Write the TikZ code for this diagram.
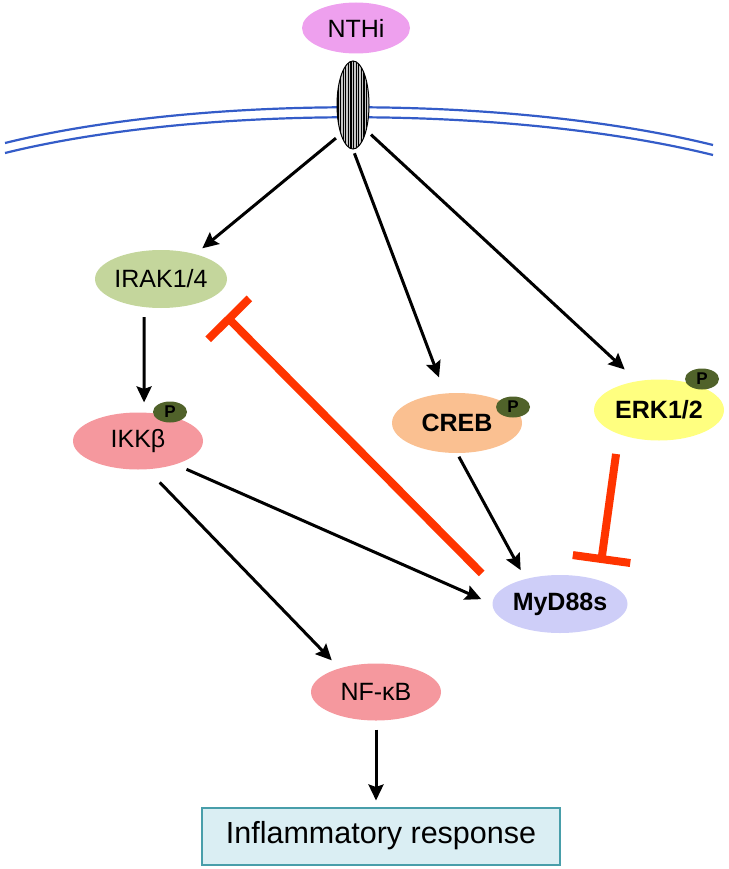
\documentclass[tikz,border=0pt]{standalone}
\usepackage{fontspec}
\setmainfont{Liberation Sans}
\usetikzlibrary{shapes.geometric,arrows.meta,patterns.meta}
\definecolor{nthicol}{RGB}{238,160,238}
\definecolor{irakcol}{RGB}{196,214,156}
\definecolor{ikkcol}{RGB}{245,152,158}
\definecolor{crebcol}{RGB}{250,192,145}
\definecolor{erkcol}{RGB}{255,255,128}
\definecolor{mydcol}{RGB}{206,206,248}
\definecolor{pcol}{RGB}{80,98,42}
\definecolor{memcol}{RGB}{52,92,200}
\definecolor{inhcol}{RGB}{255,52,0}
\definecolor{boxfill}{RGB}{218,238,243}
\definecolor{boxline}{RGB}{72,158,170}
\begin{document}
\begin{tikzpicture}[x=1pt,y=-1pt,
        prot/.style={ellipse,inner sep=0pt,minimum width=130pt,minimum height=58pt,font=\fontsize{25}{28}\selectfont},
        pbadge/.style={ellipse,fill=pcol,inner sep=0pt,minimum width=34pt,minimum height=21pt,font=\fontsize{17}{18}\selectfont\bfseries},
        act/.style={line width=3pt,-{Stealth[length=16pt,width=15pt,inset=2.5pt]}},
        inh/.style={line width=8pt,draw=inhcol,-{Bar[width=58pt]}}]
        \useasboundingbox (0,0) rectangle (728,869);
        % membrana
        \draw[memcol,line width=2.2pt] (5,143) .. controls (200,95) and (510,95) .. (713,145);
        \draw[memcol,line width=2.2pt] (5,153) .. controls (200,105) and (510,105) .. (713,155);
        % recettore e ligando
        \node[ellipse,draw,line width=1pt,minimum width=32pt,minimum height=88pt,inner sep=0pt,
              preaction={fill=gray!45},pattern={Lines[angle=90,distance=2.6pt,line width=1.1pt]}] (rec) at (353,105) {};
        \node[prot,fill=nthicol,minimum width=108pt,minimum height=51pt] (nthi) at (356,28) {NTHi};
        % proteine
        \node[prot,fill=irakcol,minimum width=132pt] (irak) at (161,279) {IRAK1/4};
        \node[prot,fill=ikkcol,minimum height=57pt] (ikk) at (138,441) {IKKβ};
        \node[prot,fill=crebcol,minimum height=60pt,font=\fontsize{25}{28}\selectfont\bfseries] (creb) at (457,423) {CREB};
        \node[prot,fill=erkcol,minimum height=61pt,font=\fontsize{25}{28}\selectfont\bfseries] (erk) at (659,410) {ERK1/2};
        \node[prot,fill=mydcol,minimum width=135pt,font=\fontsize{25}{28}\selectfont\bfseries] (myd) at (560,604) {MyD88s};
        \node[prot,fill=ikkcol,minimum height=57pt] (nfkb) at (376,692) {NF-κB};
        \node[draw=boxline,fill=boxfill,line width=2pt,minimum width=358pt,minimum height=57pt,
              font=\fontsize{30.5}{34}\selectfont] (resp) at (381,836) {Inflammatory response};
        % fosforilazioni
        \node[pbadge] (pikk) at (170,412) {P};
        \node[pbadge] (pcreb) at (513,407) {P};
        \node[pbadge] (perk) at (702,379) {P};
        % attivazioni
        \draw[act,shorten <=6pt,shorten >=9pt] (rec.247) -- (irak.36);
        \draw[act,shorten <=4pt,shorten >=17pt] (rec.270) -- (creb.112);
        \draw[act,shorten <=6pt,shorten >=17pt] (rec.298) -- (erk.127);
        \draw[act,shorten <=10pt,shorten >=10pt] (irak.239) -- (ikk.78);
        \draw[act,shorten <=12pt,shorten >=12pt] (ikk.328) -- (myd.180);
        \draw[act,shorten <=18pt,shorten >=11pt] (ikk.288) -- (nfkb.147);
        \draw[act,shorten <=4pt,shorten >=10pt] (creb.270) -- (myd.144);
        \draw[act,shorten <=9pt,shorten >=6pt] (nfkb.south) -- (nfkb.south |- resp.north);
        % inibizioni
        \coordinate (irakstop) at (226,316);
        \coordinate (erkstop) at (601,563);
        \draw[inh,shorten <=25pt] (myd.168) -- (irakstop);
        \draw[inh,shorten <=20pt] (erk.211) -- (erkstop);
\end{tikzpicture}
\end{document}
